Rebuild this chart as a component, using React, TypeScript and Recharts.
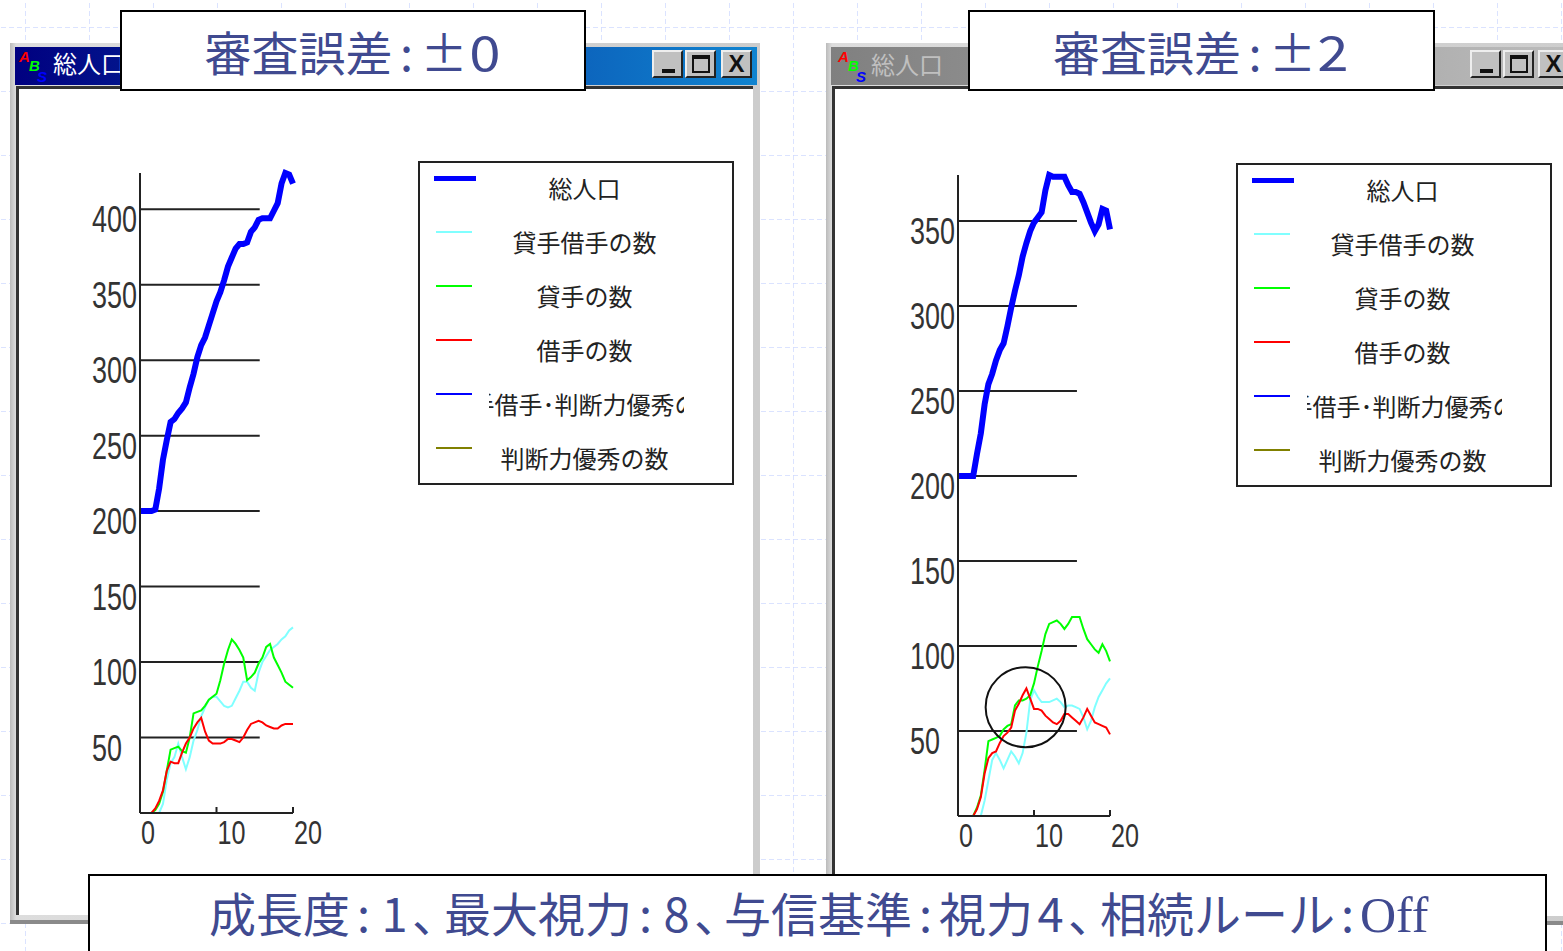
import React from "react";
import { LineChart, Line, XAxis, YAxis, Legend, ReferenceLine, ReferenceDot } from "recharts";

const steps = [
  0, 0.5, 1, 1.5, 2, 2.5, 3, 3.5, 4, 4.5, 5, 5.5, 6, 6.5, 7, 7.5, 8, 8.5, 9, 9.5, 10,
  10.5, 11, 11.5, 12, 12.5, 13, 13.5, 14, 14.5, 15, 15.5, 16, 16.5, 17, 17.5, 18, 18.5, 19, 19.5, 20,
];

const seriesNames = ["総人口", "貸手借手の数", "貸手の数", "借手の数", "貸手借手･判断力優秀の数", "判断力優秀の数"];
const seriesColors = ["#0000ff", "#80ffff", "#00ff00", "#ff0000", "#0000ff", "#808000"];

const flat = [
  0, 0, 0, 0, 0, 0, 0, 0, 0, 0, 0, 0, 0, 0, 0, 0, 0, 0, 0, 0, 0,
  0, 0, 0, 0, 0, 0, 0, 0, 0, 0, 0, 0, 0, 0, 0, 0, 0, 0, 0, 0,
];

// error 0
const popA = [
  200, 200, 200, 200, 201, 215, 234, 247, 259, 261, 265, 268, 272, 282, 291, 302, 310, 315, 323, 331, 339,
  345, 353, 362, 368, 374, 377, 377, 378, 385, 388, 393, 394, 394, 394, 399, 404, 417, 424, 423, 417,
];
const bothA = [
  0, 0, 0, 0, 0, 0, 6, 22, 33, 37, 46, 37, 29, 37, 48, 55, 64, 70, 75, 77, 77,
  74, 71, 70, 71, 76, 81, 87, 87, 83, 81, 93, 100, 104, 108, 110, 112, 115, 117, 121, 123,
];
const lendA = [
  0, 0, 0, 0, 2, 6, 14, 28, 42, 43, 44, 41, 40, 50, 66, 67, 68, 71, 75, 77, 79,
  88, 99, 108, 115, 112, 108, 103, 88, 90, 93, 99, 103, 110, 112, 103, 98, 93, 87, 85, 83,
];
const borrowA = [
  0, 0, 0, 0, 3, 8, 15, 28, 34, 33, 33, 40, 46, 50, 56, 60, 63, 54, 48, 46, 46,
  46, 47, 49, 49, 48, 47, 50, 55, 59, 60, 61, 60, 58, 57, 56, 56, 58, 59, 59, 59,
];

// error 2
const popB = [
  200, 200, 200, 200, 200, 213, 225, 242, 254, 260, 268, 274, 278, 288, 299, 309, 318, 329, 337, 344, 349,
  352, 355, 368, 377, 376, 376, 376, 376, 371, 367, 367, 366, 361, 355, 349, 344, 348, 357, 356, 345,
];
const bothB = [
  0, 0, 0, 0, 0, 0, 0, 9, 21, 33, 37, 33, 28, 33, 38, 35, 31, 37, 49, 68, 74,
  70, 67, 67, 67, 68, 69, 67, 64, 65, 65, 64, 63, 58, 51, 56, 64, 70, 74, 78, 81,
];
const lendB = [
  0, 0, 0, 0, 0, 5, 12, 27, 44, 45, 46, 47, 51, 53, 54, 65, 68, 68, 69, 71, 78,
  88, 97, 107, 113, 114, 115, 113, 110, 113, 117, 117, 117, 110, 104, 101, 98, 96, 101, 97, 91,
];
const borrowB = [
  0, 0, 0, 0, 0, 4, 11, 25, 34, 37, 38, 43, 47, 49, 52, 62, 66, 71, 75, 69, 63,
  63, 62, 59, 57, 55, 54, 56, 60, 60, 58, 56, 54, 58, 63, 59, 55, 54, 53, 52, 48,
];

const ticksA = [50, 100, 150, 200, 250, 300, 350, 400];
const ticksB = [50, 100, 150, 200, 250, 300, 350];
const xTicks = [0, 10, 20];

const buildRows = (lists: number[][]) =>
  steps.map((t, i) => {
    const row: any = { t };
    lists.forEach((l, k) => (row[seriesNames[k]] = l[i]));
    return row;
  });

const rowsA = buildRows([popA, bothA, lendA, borrowA, flat, flat]);
const rowsB = buildRows([popB, bothB, lendB, borrowB, flat, flat]);

const jp = "'Noto Sans CJK JP', sans-serif";
const ink = "#404a90";
const axisColor = "#222";

function ChartLegend({ payload }: any) {
  return (
    <div style={{ position: "relative", width: 316, height: 324, boxSizing: "border-box", border: "2px solid #222", background: "#fff" }}>
      {(payload || []).map((p: any, i: number) => (
        <React.Fragment key={p.value}>
          <div
            style={{
              position: "absolute",
              left: i === 0 ? 14 : 16,
              width: i === 0 ? 42 : 36,
              top: (i === 0 ? 13 : 14) + 54 * i,
              height: i === 0 ? 5 : 2,
              background: p.color,
            }}
          />
          <div
            style={{
              position: "absolute",
              left: 69,
              width: 195,
              top: 8 + 54 * i,
              height: 34,
              overflow: "hidden",
              display: "flex",
              justifyContent: "center",
              whiteSpace: "nowrap",
              font: `24px/34px ${jp}`,
              color: "#222",
            }}
          >
            <span style={{ flex: "none", position: "relative", left: -2 }}>{p.value}</span>
          </div>
        </React.Fragment>
      ))}
    </div>
  );
}

function Panel({ left, top, bottom, domainTop, rows, ticks, legendTop, circle }: any) {
  const W = 760;
  const H = 880;
  const YTick = ({ y, payload }: any) => (
    <text
      x={92}
      y={y + 23}
      fontFamily="'Liberation Sans', sans-serif"
      fontSize={36}
      fill="#333"
      textLength={String(payload.value).length * 15}
      lengthAdjust="spacingAndGlyphs"
    >
      {payload.value}
    </text>
  );
  const XTick = ({ x, payload }: any) => (
    <g>
      {payload.value > 0 && <line x1={x} x2={x} y1={bottom} y2={bottom - 6} stroke={axisColor} strokeWidth={2} />}
      <text
        x={x + 1}
        y={bottom + 31}
        fontFamily="'Liberation Sans', sans-serif"
        fontSize={33}
        fill="#333"
        textLength={String(payload.value).length * 14}
        lengthAdjust="spacingAndGlyphs"
      >
        {payload.value}
      </text>
    </g>
  );
  return (
    <div style={{ position: "absolute", left, top: 0 }}>
      <LineChart width={W} height={H} data={rows} margin={{ top, right: W - (left === 0 ? 293 : 292), bottom: H - bottom - 40, left: 90 }}>
        {ticks.map((v: number) => (
          <ReferenceLine
            key={v}
            segment={[{ x: 0, y: v }, { x: 15.65, y: v }]}
            stroke={axisColor}
            strokeWidth={2}
          />
        ))}
        <XAxis
          dataKey="t"
          type="number"
          domain={[0, 20]}
          ticks={xTicks}
          interval={0}
          height={40}
          stroke={axisColor}
          strokeWidth={2}
          tickLine={false}
          tick={XTick}
        />
        <YAxis
          type="number"
          domain={[0, domainTop]}
          ticks={ticks}
          interval={0}
          width={50}
          stroke={axisColor}
          strokeWidth={2}
          tickLine={false}
          tick={YTick}
        />
        {seriesNames.map((name, i) => (
          <Line
            key={name}
            dataKey={name}
            type="linear"
            stroke={seriesColors[i]}
            strokeWidth={i === 0 ? 6 : 2}
            dot={false}
            isAnimationActive={false}
          />
        ))}
        {circle && (
          <ReferenceDot x={8.9} y={64} r={40} fill="none" stroke="#111" strokeWidth={2} />
        )}
        <Legend
          layout="vertical"
          align="center"
          verticalAlign="middle"
          itemSorter={null}
          content={ChartLegend}
          wrapperStyle={{ position: "absolute", left: 418, top: legendTop, width: 316, height: 324 }}
        />
      </LineChart>
    </div>
  );
}

function WinButton({ left, kind }: any) {
  return (
    <div
      style={{
        position: "absolute",
        left,
        top: 50,
        width: 31,
        height: 28,
        boxSizing: "border-box",
        background: "#c0c0c0",
        borderTop: "2px solid #eee",
        borderLeft: "2px solid #eee",
        borderRight: "2px solid #222",
        borderBottom: "2px solid #222",
      }}
    >
      {kind === "min" && <div style={{ position: "absolute", left: 8, top: 17, width: 13, height: 4, background: "#111" }} />}
      {kind === "max" && (
        <div style={{ position: "absolute", left: 5, top: 3, width: 18, height: 18, boxSizing: "border-box", border: "2px solid #111", borderTopWidth: 4 }} />
      )}
      {kind === "close" && (
        <div style={{ position: "absolute", left: 0, top: -2, width: 27, textAlign: "center", font: "bold 24px/28px 'Liberation Sans', sans-serif", color: "#111" }}>X</div>
      )}
    </div>
  );
}

function Icon({ left }: any) {
  const letter = { position: "absolute", font: "italic bold 15px/15px 'Liberation Sans', sans-serif" } as const;
  return (
    <>
      <span style={{ ...letter, left, top: 49, color: "#ff0000" }}>A</span>
      <span style={{ ...letter, left: left + 10, top: 58, color: "#00ff00" }}>B</span>
      <span style={{ ...letter, left: left + 18, top: 69, color: "#0000ff" }}>S</span>
    </>
  );
}

function Win({ left, width, height, active }: any) {
  return (
    <div style={{ position: "absolute", left, top: 43, width, height, background: "linear-gradient(90deg,#bbb,#ddd 6px,#ccc)", boxShadow: "inset 0 -4px 0 #8a8a8a" }}>
      <div
        style={{
          position: "absolute",
          left: 5,
          top: 4,
          right: 3,
          height: 38,
          background: active ? "linear-gradient(90deg,#000080,#1084d0)" : "linear-gradient(90deg,#808080,#c0c0c0)",
        }}
      />
      <div
        style={{
          position: "absolute",
          left: 6,
          top: 43,
          right: 7,
          bottom: 9,
          background: "#fff",
          borderTop: "3px solid #333",
          borderLeft: "3px solid #333",
        }}
      />
    </div>
  );
}

function Box({ left, top, width, height, children, style }: any) {
  return (
    <div
      style={{
        position: "absolute",
        left,
        top,
        width,
        height,
        boxSizing: "border-box",
        border: "2px solid #000",
        background: "#fff",
        display: "flex",
        alignItems: "center",
        justifyContent: "center",
        whiteSpace: "nowrap",
        color: ink,
        font: `47px/1 ${jp}`,
        ...style,
      }}
    >
      {children}
    </div>
  );
}

const Cell = ({ w, sx, children }: any) => (
  <span style={{ display: "inline-block", width: w, textAlign: "center", transform: sx ? `scaleX(${sx})` : undefined }}>{children}</span>
);

// half-width comma, the rest of the slot stays empty
const Comma = ({ w }: any) => (
  <span style={{ display: "inline-block", width: w, fontFeatureSettings: "'halt'" }}>、</span>
);

export default function App() {
  return (
    <div style={{ position: "absolute", left: 0, top: 0, width: 1563, height: 951, overflow: "hidden", background: "#fff" }}>
      <svg width={1563} height={951} style={{ position: "absolute", left: 0, top: 0 }}>
        <defs>
          <pattern id="bg" x={25} y={27} width={64} height={64} patternUnits="userSpaceOnUse">
            <line x1={0} y1={0} x2={0} y2={64} stroke="#d0daff" strokeWidth={1.5} strokeDasharray="5 3" />
            <line x1={0} y1={0} x2={64} y2={0} stroke="#d0daff" strokeWidth={1.5} strokeDasharray="5 3" />
          </pattern>
        </defs>
        <rect width={1563} height={951} fill="url(#bg)" />
      </svg>

      <Win left={10} width={750} height={881} active />
      <Icon left={19} />
      <div style={{ position: "absolute", left: 53, top: 46, font: `24px/34px ${jp}`, color: "#fff" }}>総人口</div>
      <WinButton left={652} kind="min" />
      <WinButton left={685} kind="max" />
      <WinButton left={721} kind="close" />

      <Win left={826} width={800} height={882} />
      <Icon left={838} />
      <div style={{ position: "absolute", left: 871, top: 47, font: `24px/34px ${jp}`, color: "#c0c0c0" }}>総人口</div>
      <WinButton left={1470} kind="min" />
      <WinButton left={1503} kind="max" />
      <WinButton left={1538} kind="close" />

      <Panel left={0} top={173} bottom={813} domainTop={424} rows={rowsA} ticks={ticksA} legendTop={161} />
      <Panel left={818} top={175} bottom={816} domainTop={377} rows={rowsB} ticks={ticksB} legendTop={163} circle />

      <Box left={120} top={10} width={466} height={81}>
        <span>審査誤差<Cell w={28}>:</Cell>±<Cell w={34} sx={1.2}>0</Cell></span>
      </Box>
      <Box left={968} top={10} width={467} height={81}>
        <span>審査誤差<Cell w={28}>:</Cell>±<Cell w={34} sx={1.2}>2</Cell></span>
      </Box>
      <Box left={88} top={874} width={1459} height={90} style={{ justifyContent: "flex-start", paddingLeft: 119 }}>
        <span style={{ position: "relative", top: -5 }}>
          成長度<Cell w={27}>:</Cell><Cell w={35}>1</Cell><Comma w={32} />
          最大視力<Cell w={27}>:</Cell><Cell w={35}>8</Cell><Comma w={30} />
          与信基準<Cell w={27}>:</Cell>視力<Cell w={35}>4</Cell><Comma w={32} />
          相続ルール<Cell w={25}>:</Cell>
          <span style={{ fontFamily: "'Liberation Serif', serif", fontSize: 50 }}>Off</span>
        </span>
      </Box>
    </div>
  );
}
